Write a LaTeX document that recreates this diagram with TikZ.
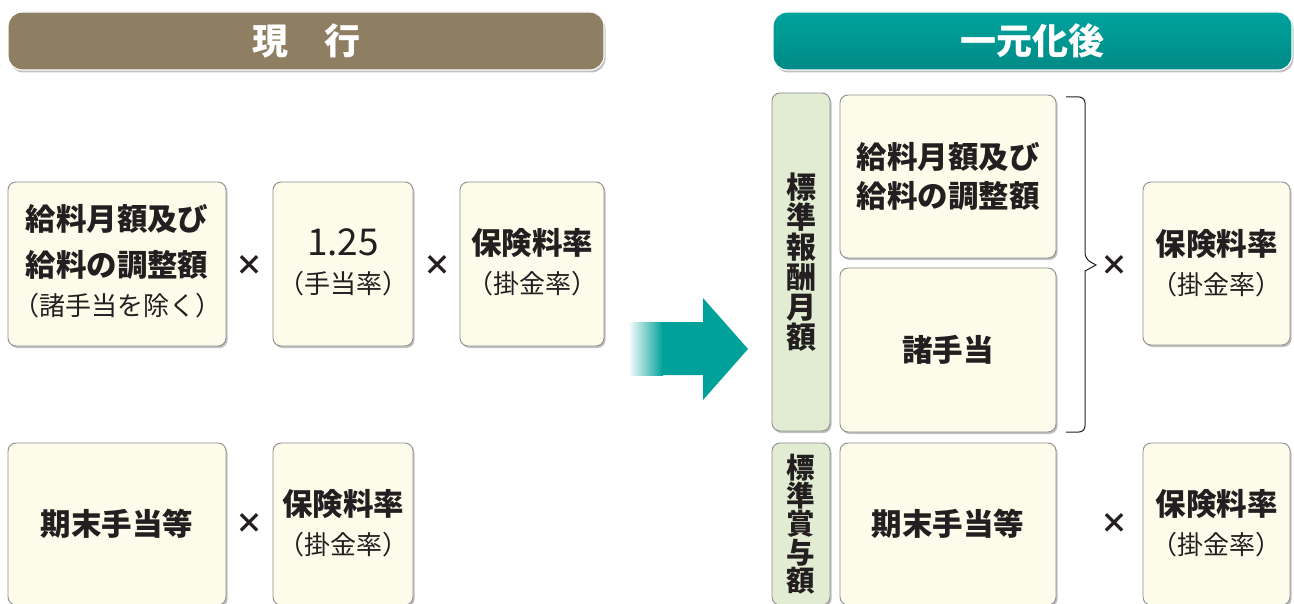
\documentclass[tikz,border=0pt]{standalone}
\usepackage{fontspec}
\setmainfont{Noto Sans CJK JP}
\usetikzlibrary{shadows}
\definecolor{cream}{HTML}{FDFBEA}
\definecolor{boxline}{HTML}{8F8F8F}
\definecolor{brownhead}{HTML}{8E7E62}
\definecolor{tealA}{HTML}{00A39D}
\definecolor{tealB}{HTML}{008A85}
\definecolor{arrowteal}{HTML}{00A19B}
\definecolor{greenlab}{HTML}{E2ECD3}
\definecolor{txt}{HTML}{231F20}
\newcommand\bfL{\bfseries\fontsize{30.5}{34}\selectfont}
\newcommand\smL{\mdseries\fontsize{26}{28}\selectfont}
\newcommand\numL{\mdseries\fontsize{37}{40}\selectfont}
\newcommand\vtL{\bfseries\fontsize{30}{30}\selectfont}
\newcommand\vtS{\bfseries\fontsize{28.5}{27}\selectfont}
\newcommand\tmL{\bfseries\fontsize{28}{30}\selectfont}
\tikzset{
  box/.style={draw=boxline, line width=0.9pt, fill=cream, rounded corners=8pt,
    drop shadow={shadow xshift=1.5pt, shadow yshift=-2pt, opacity=0.35, fill=black!70},
    text=txt, align=center, inner sep=0pt},
  labbox/.style={box, fill=greenlab},
  headbox/.style={rounded corners=14pt, draw=white, line width=1.2pt,
    drop shadow={shadow xshift=1.5pt, shadow yshift=-2.5pt, opacity=0.35, fill=black!70},
    text=white, font=\bfseries\fontsize{36}{40}\selectfont, inner sep=0pt},
  times/.style={text=txt, font=\tmL, inner sep=0pt},
  lbl/.style={text=txt, inner sep=0pt, align=center},
}
\begin{document}
\begin{tikzpicture}[x=1pt,y=-1pt]
\useasboundingbox (0,0) rectangle (1294,604);
\clip (0,0) rectangle (1294,604);
\fill[white] (0,0) rectangle (1294,604);
% headers
\node[headbox, fill=brownhead, minimum width=596pt, minimum height=58pt] (hL) at (306,41) {現　行};
\node[headbox, top color=tealA, bottom color=tealB, minimum width=519pt, minimum height=58pt] (hR) at (1032.5,41) {一元化後};
% left row 1
\node[box, minimum width=218pt, minimum height=164pt] (a1) at (117,264) {};
\node[lbl, font=\bfL] (a1t1) at (117,219) {給料月額及び};
\node[lbl, font=\bfL] (a1t2) at (117,265) {給料の調整額};
\node[lbl, font=\smL] (a1t3) at (117,306) {（諸手当を除く）};
\node[times] (m1) at (249,265) {×};
\node[box, minimum width=140pt, minimum height=164pt] (a2) at (343,264) {};
\node[lbl, font=\numL] (a2t1) at (343,242) {1.25};
\node[lbl, font=\smL] (a2t2) at (343,284) {（手当率）};
\node[times] (m2) at (437,265) {×};
\node[box, minimum width=144pt, minimum height=164pt] (a3) at (532,264) {};
\node[lbl, font=\bfL] (a3t1) at (532,243) {保険料率};
\node[lbl, font=\smL] (a3t2) at (532,284) {（掛金率）};
% left row 2
\node[box, minimum width=218pt, minimum height=162pt, font=\bfL] (b1) at (117,524) {期末手当等};
\node[times] (mb) at (249,523) {×};
\node[box, minimum width=140pt, minimum height=162pt] (b2) at (343,524) {};
\node[lbl, font=\bfL] (b2t1) at (343,504) {保険料率};
\node[lbl, font=\smL] (b2t2) at (343,545) {（掛金率）};
% arrow
\shade[left color=white, right color=arrowteal] (628,322) rectangle (663,375);
\fill[arrowteal] (662,322) -- (703,322) -- (703,298) -- (748,349) -- (703,400) -- (703,375) -- (662,375) -- cycle;
% right side
\node[labbox, minimum width=58pt, minimum height=338pt, font=\vtL] (l1) at (801,262) {標\\準\\報\\酬\\月\\額};
\node[box, minimum width=216pt, minimum height=163pt] (r1) at (948,176.5) {};
\node[lbl, font=\bfL] (r1t1) at (948,157) {給料月額及び};
\node[lbl, font=\bfL] (r1t2) at (948,196) {給料の調整額};
\node[box, minimum width=216pt, minimum height=164pt, font=\bfL] (r2) at (948,350) {諸手当};
\node[times] (mr) at (1114,265) {×};
\node[box, minimum width=147pt, minimum height=163pt] (r3) at (1216.5,263.5) {};
\node[lbl, font=\bfL] (r3t1) at (1216.5,244) {保険料率};
\node[lbl, font=\smL] (r3t2) at (1216.5,285) {（掛金率）};
% bracket
\coordinate (bt) at (1066,97);
\coordinate (bb) at (1066,432);
\coordinate (bm) at (1096,265);
\draw[txt, line width=1pt, rounded corners=6pt] (bt) -- (1085,97) -- (1085,259) [sharp corners] -- (bm) -- (1085,271) [rounded corners=6pt] -- (1085,432) -- (bb);
% right row 2
\node[labbox, minimum width=58pt, minimum height=162pt, font=\vtS] (l2) at (801,524) {標\\準\\賞\\与\\額};
\node[box, minimum width=216pt, minimum height=162pt, font=\bfL] (r4) at (948,524) {期末手当等};
\node[times] (mr2) at (1114,523) {×};
\node[box, minimum width=147pt, minimum height=162pt] (r5) at (1216.5,524) {};
\node[lbl, font=\bfL] (r5t1) at (1216.5,504) {保険料率};
\node[lbl, font=\smL] (r5t2) at (1216.5,545) {（掛金率）};
\end{tikzpicture}
\end{document}
